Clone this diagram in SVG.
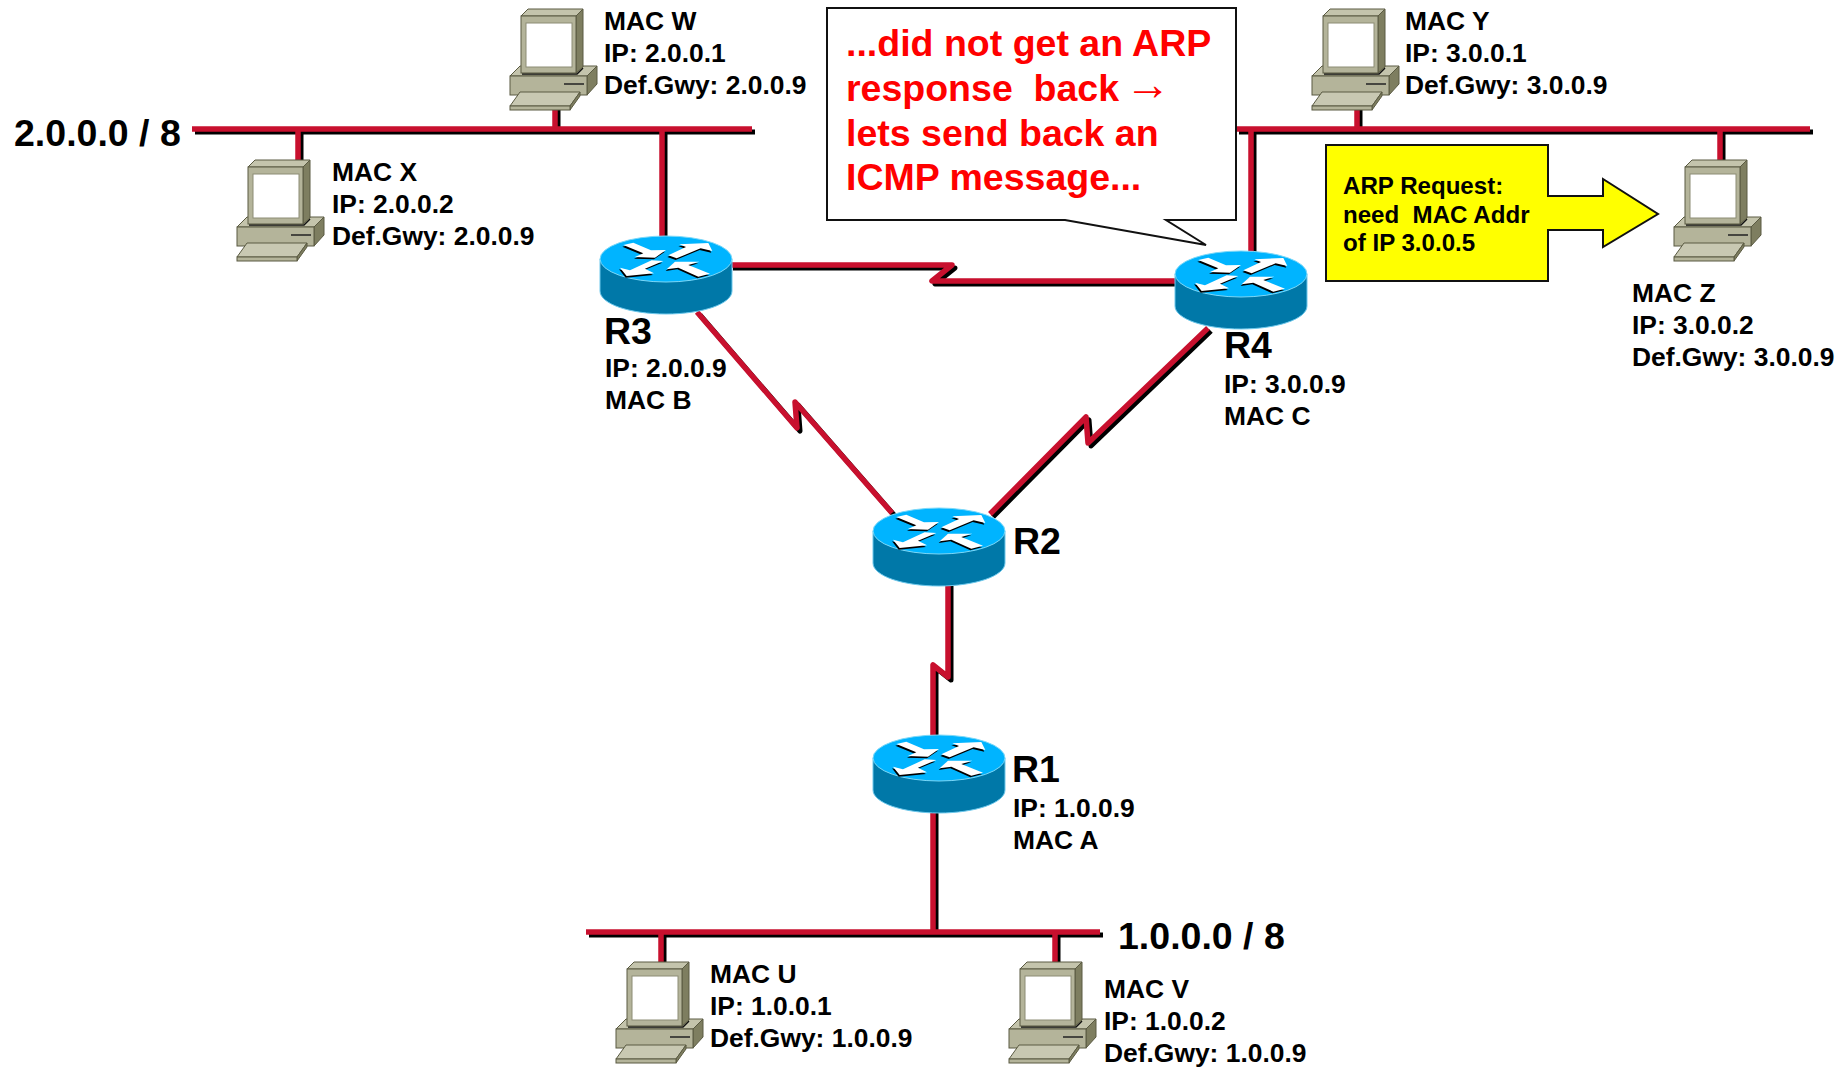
<svg xmlns="http://www.w3.org/2000/svg" width="1845" height="1074" viewBox="0 0 1845 1074">
<style>
text{font-family:"Liberation Sans",Arial,sans-serif;font-weight:700;fill:#000;white-space:pre}
.lb{font-size:26.4px}
.rt{font-size:37.5px}
.net{font-size:37.5px}
.co{font-size:37.5px;fill:#ff0000}
.arr{font-family:"Liberation Serif","Times New Roman",serif;font-weight:400;fill:#ff0000;font-size:46px}
.ar{font-size:24.1px}
.s{fill:none;stroke:#000;stroke-width:5;stroke-linejoin:round}
.r{fill:none;stroke:#c8102e;stroke-width:5.5;stroke-linejoin:round}
.ol{stroke:#5a5a42;stroke-width:1}
</style>
<defs>
<g id="pc">
<polygon class="ol" points="0,67 10,57 87,57 77,67" fill="#c4c4ac"/>
<polygon class="ol" points="77,67 87,57 87,75 77,86" fill="#7e7e60"/>
<rect class="ol" x="0" y="67" width="77" height="19" fill="#b4b49a"/>
<line x1="54" y1="75" x2="74" y2="75" stroke="#222" stroke-width="1.5"/>
<polygon class="ol" points="0,97 10,83 70,83 60,97" fill="#c8c8b2"/>
<polygon class="ol" points="60,97 70,83 70,87 60,101" fill="#7e7e60"/>
<rect class="ol" x="0" y="97" width="60" height="4" fill="#b4b49a"/>
<polyline points="12,65 67,65 73,59" fill="none" stroke="#111" stroke-width="1.5"/>
<polygon class="ol" points="11,7 18,0 73,0 66,7" fill="#c4c4ac"/>
<polygon class="ol" points="66,7 73,0 73,58 66,64" fill="#7e7e60"/>
<rect class="ol" x="11" y="7" width="55" height="57" fill="#b4b49a"/>
<rect x="16" y="14" width="46" height="44" fill="#fff" stroke="#8c8c74" stroke-width="1"/>
</g>
<g id="rtr">
<path d="M0,23 V55 C0,68 30,78 66,78 C102,78 132,68 132,55 V23 Z" fill="#0078a8" stroke="#6cc8ec" stroke-width="1"/>
<ellipse cx="66" cy="23" rx="66" ry="23" fill="#00b4ff" stroke="#7cd8f8" stroke-width="1"/>
<g transform="translate(-20,-15) scale(.3333)">
<g fill="#000" transform="translate(-3,5)">
<polygon points="130,72 160,65 213,88 258,87 225,110 165,108 190,97"/>
<polygon points="265,103 318,78 298,70 385,66 397,90 362,82 290,112"/>
<polygon points="250,120 195,143 222,157 140,165 120,140 150,148 215,118"/>
<polygon points="260,145 285,122 358,122 325,132 390,158 355,167 295,140"/>
</g>
<g fill="#fff">
<polygon points="130,72 160,65 213,88 258,87 225,110 165,108 190,97"/>
<polygon points="265,103 318,78 298,70 385,66 397,90 362,82 290,112"/>
<polygon points="250,120 195,143 222,157 140,165 120,140 150,148 215,118"/>
<polygon points="260,145 285,122 358,122 325,132 390,158 355,167 295,140"/>
</g>
</g>
</g>
<g id="wires">
<path d="M192,129 H752"/>
<path d="M298,129 V160"/>
<path d="M555,105 V129"/>
<path d="M662,129 V240"/>
<path d="M1236,129 H1810"/>
<path d="M1251,129 V255"/>
<path d="M1357,105 V129"/>
<path d="M1720,129 V160"/>
<path d="M586,932 H1100"/>
<path d="M661,932 V962"/>
<path d="M1055,932 V962"/>
<path d="M933,810 V932"/>
<path d="M730,265 H952 L932,281 H1180"/>
<path d="M697,312 L797,428 L795,402 L892,513"/>
<path d="M990,514 L1086,417 L1088,443 L1208,328"/>
<path d="M948,583 V677 L933,665 V737"/>
</g>
</defs>
<rect width="1845" height="1074" fill="#fff"/>
<g id="connectors">
<use href="#wires" class="s" transform="translate(3,3)"/>
<use href="#wires" class="r"/>
</g>
<g id="r3"><use href="#rtr" x="600" y="236"/><text class="rt" x="604" y="344">R3</text><text class="lb" x="605" y="377">IP: 2.0.0.9</text><text class="lb" x="605" y="409">MAC B</text></g>
<g id="r4"><use href="#rtr" x="1175" y="251"/><text class="rt" x="1224" y="358">R4</text><text class="lb" x="1224" y="393">IP: 3.0.0.9</text><text class="lb" x="1224" y="425">MAC C</text></g>
<g id="r2"><use href="#rtr" x="873" y="508"/><text class="rt" x="1013" y="554">R2</text></g>
<g id="r1"><use href="#rtr" x="873" y="735"/><text class="rt" x="1012" y="782">R1</text><text class="lb" x="1013" y="817">IP: 1.0.0.9</text><text class="lb" x="1013" y="849">MAC A</text></g>
<g id="pc-w"><use href="#pc" x="510" y="9"/><text class="lb" x="604" y="30">MAC W</text><text class="lb" x="604" y="62">IP: 2.0.0.1</text><text class="lb" x="604" y="94">Def.Gwy: 2.0.0.9</text></g>
<g id="pc-x"><use href="#pc" x="237" y="160"/><text class="lb" x="332" y="181">MAC X</text><text class="lb" x="332" y="213">IP: 2.0.0.2</text><text class="lb" x="332" y="245">Def.Gwy: 2.0.0.9</text></g>
<g id="pc-y"><use href="#pc" x="1312" y="9"/><text class="lb" x="1405" y="30">MAC Y</text><text class="lb" x="1405" y="62">IP: 3.0.0.1</text><text class="lb" x="1405" y="94">Def.Gwy: 3.0.0.9</text></g>
<g id="pc-z"><use href="#pc" x="1674" y="160"/><text class="lb" x="1632" y="302">MAC Z</text><text class="lb" x="1632" y="334">IP: 3.0.0.2</text><text class="lb" x="1632" y="366">Def.Gwy: 3.0.0.9</text></g>
<g id="pc-u"><use href="#pc" x="616" y="962"/><text class="lb" x="710" y="983">MAC U</text><text class="lb" x="710" y="1015">IP: 1.0.0.1</text><text class="lb" x="710" y="1047">Def.Gwy: 1.0.0.9</text></g>
<g id="pc-v"><use href="#pc" x="1009" y="962"/><text class="lb" x="1104" y="998">MAC V</text><text class="lb" x="1104" y="1030">IP: 1.0.0.2</text><text class="lb" x="1104" y="1062">Def.Gwy: 1.0.0.9</text></g>
<g id="net-2"><text class="net" x="14" y="146">2.0.0.0 / 8</text></g>
<g id="net-1"><text class="net" x="1118" y="949">1.0.0.0 / 8</text></g>
<g id="callout">
<polygon points="827,8 1236,8 1236,220 1166,220 1206,245 1065,220 827,220" fill="#fff" stroke="#111" stroke-width="2"/>
<text class="co" x="846" y="56">...did not get an ARP</text>
<text class="co" x="846" y="101">response  back<tspan class="arr" dx="6" dy="-1">→</tspan></text>
<text class="co" x="846" y="146">lets send back an</text>
<text class="co" x="846" y="190">ICMP message...</text>
</g>
<g id="arp-note">
<polygon points="1326,145 1548,145 1548,196 1603,196 1603,179 1658,214 1603,247 1603,230 1548,230 1548,281 1326,281" fill="#ffff00" stroke="#111" stroke-width="2"/>
<text class="ar" x="1343" y="194">ARP Request:</text>
<text class="ar" x="1343" y="223">need  MAC Addr</text>
<text class="ar" x="1343" y="251">of IP 3.0.0.5</text>
</g>
</svg>
